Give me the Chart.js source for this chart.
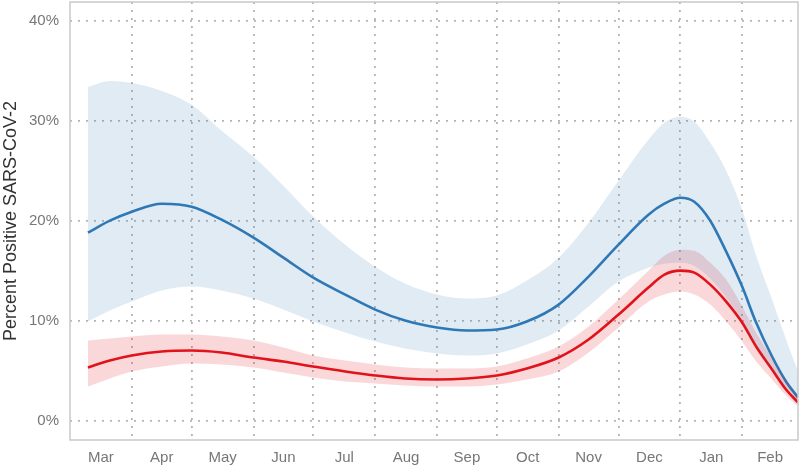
<!DOCTYPE html>
<html>
<head>
<meta charset="utf-8">
<script src="https://cdn.jsdelivr.net/npm/chart.js@4"></script>
<style>
  html, body { margin: 0; padding: 0; background: #fff; }
  #wrap { width: 800px; height: 468px; }
</style>
</head>
<body>
<div id="wrap"><canvas id="chart" width="800" height="468"></canvas></div>
<script>
// days counted from 1 March
const days = [9, 20, 31, 46, 61, 76, 92, 107, 122, 138, 153, 168, 184, 199, 214, 229, 245, 260, 275, 290, 298, 306, 313, 321, 329, 337, 344, 352, 359, 365];

const blueMid  = [18.8, 20.0, 20.9, 21.7, 21.4, 20.1, 18.3, 16.3, 14.3, 12.6, 11.1, 10.0, 9.3, 9.0, 9.1, 9.9, 11.6, 14.4, 17.6, 20.6, 21.7, 22.3, 21.9, 20.0, 16.9, 13.4, 9.8, 6.4, 3.9, 2.3];
const blueHigh = [33.4, 34.0, 33.8, 33.0, 31.6, 29.0, 26.4, 23.5, 20.4, 17.6, 15.4, 13.7, 12.6, 12.2, 12.5, 14.0, 16.3, 19.8, 24.0, 28.1, 29.8, 30.4, 29.9, 27.8, 25.0, 21.1, 16.5, 12.1, 8.1, 4.9];
const blueLow  = [9.9, 11.0, 11.9, 13.0, 13.4, 13.0, 12.2, 11.1, 9.9, 8.8, 7.9, 7.2, 6.7, 6.5, 6.7, 7.6, 9.0, 11.4, 13.9, 15.3, 15.7, 15.8, 15.5, 14.2, 12.3, 10.0, 7.5, 5.2, 3.3, 2.0];

const redMid  = [5.3, 6.0, 6.5, 6.9, 7.0, 6.8, 6.3, 5.9, 5.4, 4.9, 4.5, 4.2, 4.1, 4.2, 4.5, 5.2, 6.3, 8.1, 10.6, 13.3, 14.6, 15.0, 14.8, 13.6, 11.9, 9.8, 7.4, 5.1, 3.1, 1.8];
const redHigh = [8.0, 8.2, 8.4, 8.6, 8.6, 8.4, 8.0, 7.3, 6.5, 6.0, 5.6, 5.3, 5.2, 5.2, 5.4, 6.2, 7.4, 9.4, 12.1, 15.0, 16.5, 17.1, 17.0, 15.8, 14.1, 11.4, 8.8, 6.2, 3.9, 2.3];
const redLow  = [3.4, 4.2, 4.9, 5.4, 5.7, 5.6, 5.3, 4.8, 4.3, 3.9, 3.7, 3.5, 3.4, 3.4, 3.6, 4.1, 4.9, 6.8, 9.3, 11.9, 12.6, 12.9, 12.6, 11.6, 9.9, 7.9, 5.9, 4.1, 2.5, 1.4];

const monthNames = ["Mar", "Apr", "May", "Jun", "Jul", "Aug", "Sep", "Oct", "Nov", "Dec", "Jan", "Feb"];
const monthStarts = [0, 31, 61, 92, 122, 153, 184, 214, 245, 275, 306, 337, 365];
const yTicks = [0, 10, 20, 30, 40];

const pts = (arr) => arr.map((v, i) => ({ x: days[i], y: v }));
const monthMids = monthNames.map((m, i) => (monthStarts[i] + monthStarts[i + 1]) / 2);

const BLUE = "#2f78b7";
const RED = "#e3131b";
const GRID = "#b4b4b4";

const plotBorder = {
  id: "plotBorder",
  afterDraw(chart) {
    const { ctx, chartArea: a } = chart;
    ctx.save();
    ctx.strokeStyle = "#c9c9c9";
    ctx.lineWidth = 1.5;
    ctx.strokeRect(a.left, a.top, a.right - a.left, a.bottom - a.top);
    ctx.restore();
  },
};

const band = {
  pointRadius: 0,
  borderWidth: 0,
  borderColor: "rgba(0,0,0,0)",
  cubicInterpolationMode: "monotone",
};

new Chart(document.getElementById("chart"), {
  type: "line",
  data: {
    datasets: [
      { ...band, data: pts(blueHigh), fill: "+1", backgroundColor: "rgba(47,120,183,0.15)" },
      { ...band, data: pts(blueLow), fill: false },
      { ...band, data: pts(redHigh), fill: "+1", backgroundColor: "rgba(227,19,27,0.17)" },
      { ...band, data: pts(redLow), fill: false },
      { data: pts(blueMid), borderColor: BLUE, borderWidth: 2.6, pointRadius: 0, cubicInterpolationMode: "monotone", fill: false },
      { data: pts(redMid), borderColor: RED, borderWidth: 2.6, pointRadius: 0, cubicInterpolationMode: "monotone", fill: false },
    ],
  },
  options: {
    responsive: false,
    animation: false,
    layout: { padding: { top: 2, right: 2, left: 0, bottom: 0 } },
    plugins: { legend: { display: false }, tooltip: { enabled: false } },
    scales: {
      x: {
        type: "linear",
        min: 0,
        max: 365,
        afterBuildTicks: (scale) => {
          scale.ticks = monthStarts.slice(1, 12).map((v) => ({ value: v }));
        },
        afterFit: (scale) => {
          scale.height = 0;
          scale.paddingLeft = 0;
          scale.paddingRight = 0;
        },
        ticks: { display: false },
        border: { display: false, dash: [2, 6] },
        grid: { color: GRID, lineWidth: 1.8, drawTicks: false },
      },
      xm: {
        type: "linear",
        position: "bottom",
        min: 0,
        max: 365,
        afterBuildTicks: (scale) => {
          scale.ticks = monthMids.map((v) => ({ value: v }));
        },
        afterFit: (scale) => {
          scale.height = 28;
          scale.paddingLeft = 0;
          scale.paddingRight = 0;
        },
        ticks: {
          autoSkip: false,
          maxRotation: 0,
          padding: 9,
          color: "#777",
          font: { family: "Liberation Sans", size: 15 },
          callback: (value, index) => monthNames[index],
        },
        border: { display: false },
        grid: { display: false, drawTicks: false },
      },
      y: {
        min: -1.96,
        max: 41.9,
        afterBuildTicks: (scale) => {
          scale.ticks = yTicks.map((v) => ({ value: v }));
        },
        afterFit: (scale) => {
          scale.width = 70;
          scale.paddingTop = 0;
          scale.paddingBottom = 0;
        },
        ticks: {
          padding: 11,
          color: "#777",
          font: { family: "Liberation Sans", size: 15 },
          callback: (v) => v + "%",
        },
        border: { display: false, dash: [2, 6] },
        grid: { color: GRID, lineWidth: 1.8, drawTicks: false },
        title: {
          display: true,
          text: "Percent Positive SARS-CoV-2",
          color: "#333",
          padding: { top: 0, bottom: 2 },
          font: { family: "Liberation Sans", size: 18 },
        },
      },
    },
  },
  plugins: [plotBorder],
});
</script>
</body>
</html>
